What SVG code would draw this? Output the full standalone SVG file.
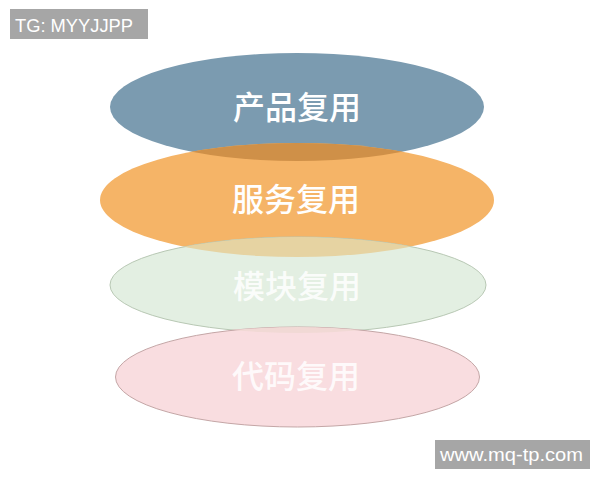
<svg xmlns="http://www.w3.org/2000/svg" width="600" height="480" viewBox="0 0 600 480">
  <style>
    .lbl { font-family: "Noto Sans CJK SC", "Noto Sans", sans-serif; font-size: 32px; font-weight: 500; fill: #ffffff; text-anchor: middle; }
    .tag { font-family: "Liberation Sans", Arial, sans-serif; fill: #ffffff; }
  </style>
  <defs>
    <clipPath id="clipBlue"><ellipse cx="297" cy="107" rx="187" ry="54"/></clipPath>
    <clipPath id="clipOrange"><ellipse cx="297" cy="200" rx="197" ry="57"/></clipPath>
    <clipPath id="clipGreen"><ellipse cx="298" cy="285" rx="188" ry="48"/></clipPath>
  </defs>
  <rect width="600" height="480" fill="#ffffff"/>

  <g id="product">
    <ellipse cx="297" cy="107" rx="187" ry="54" fill="#7b9bb0"/>
  </g>
  <g id="service">
    <ellipse cx="297" cy="200" rx="197" ry="57" fill="#f5b467"/>
    <ellipse cx="297" cy="200" rx="197" ry="57" fill="#cf9048" clip-path="url(#clipBlue)"/>
  </g>
  <g id="module">
    <ellipse cx="298" cy="285" rx="188" ry="48" fill="#e3efe2" stroke="#b8c8b4" stroke-width="1"/>
    <ellipse cx="298" cy="285" rx="188" ry="48" fill="#e6d3a2" clip-path="url(#clipOrange)"/>
  </g>
  <g id="code">
    <ellipse cx="297.5" cy="377" rx="182" ry="50" fill="#f9dde0" stroke="#c4a6a6" stroke-width="1"/>
    <ellipse cx="297.5" cy="377" rx="182" ry="50" fill="#f1d9d5" clip-path="url(#clipGreen)"/>
  </g>

  <g id="labels">
    <text class="lbl" x="297" y="119">产品复用</text>
    <text class="lbl" x="296" y="211">服务复用</text>
    <text class="lbl" x="297" y="298" fill-opacity="0.85">模块复用</text>
    <text class="lbl" x="296" y="388" fill-opacity="0.85">代码复用</text>
  </g>

  <g id="connectors"></g>

  <g id="tag-top">
    <rect x="10" y="9" width="138" height="30" fill="#a6a6a6"/>
    <text class="tag" x="15" y="32" font-size="19" textLength="118" lengthAdjust="spacingAndGlyphs">TG: MYYJJPP</text>
  </g>
  <g id="tag-bottom">
    <rect x="435" y="440" width="155" height="29" fill="#a6a6a6"/>
    <text class="tag" x="440" y="461" font-size="19" textLength="143" lengthAdjust="spacingAndGlyphs">www.mq-tp.com</text>
  </g>
</svg>
